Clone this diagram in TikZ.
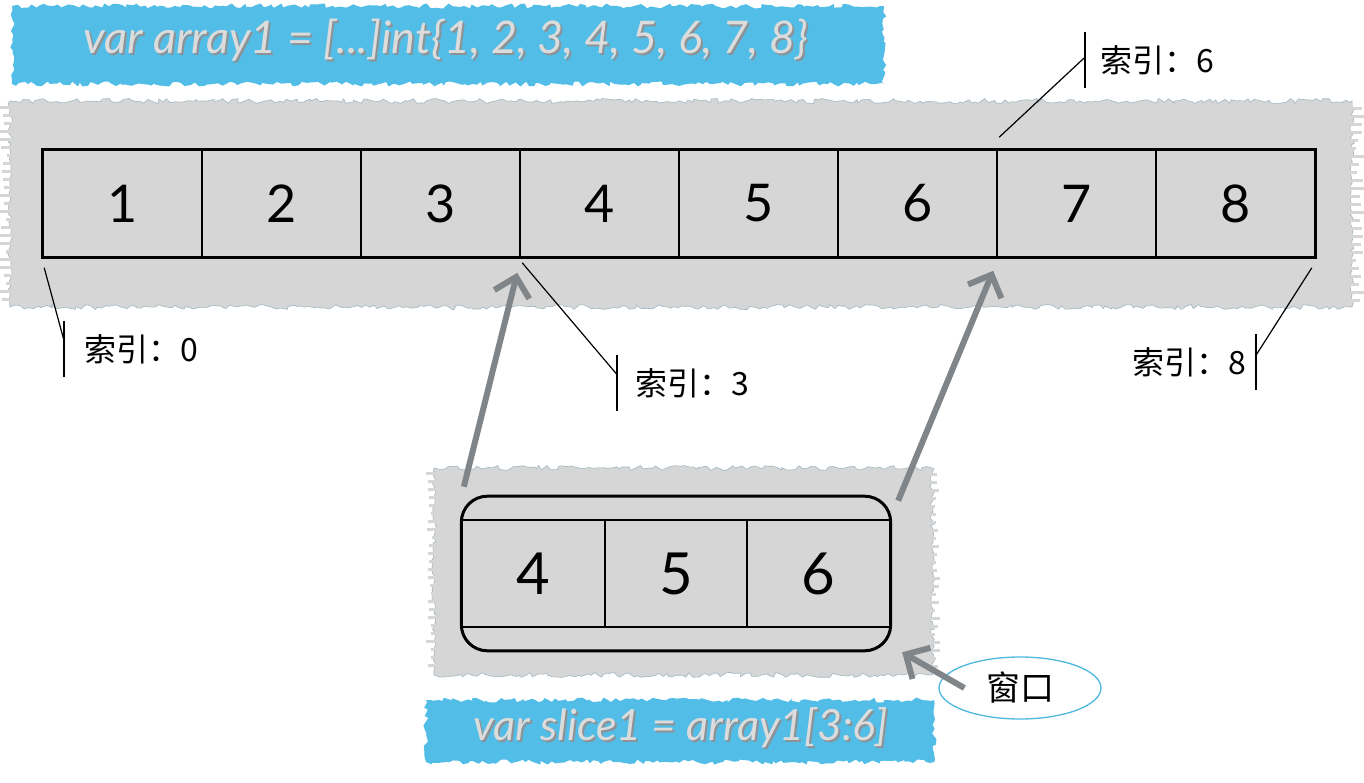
\documentclass[tikz,border=0pt]{standalone}
\usepackage{fontspec}
\setmainfont{Lato}
\newfontfamily\cjk{Noto Sans CJK SC}
\usetikzlibrary{arrows.meta,decorations.pathmorphing,shapes.geometric,calc,fit}
\definecolor{bannerblue}{HTML}{52BDE6}
\definecolor{bggray}{HTML}{D6D6D6}
\definecolor{arrowgray}{HTML}{7F8588}
\definecolor{codegray}{HTML}{DCDCDC}
\definecolor{shadowgray}{HTML}{8C9296}
\definecolor{edgeblue}{HTML}{A3B6C1}
\definecolor{ellblue}{HTML}{4DB8E0}
\tikzset{
  rough/.style={decorate, decoration={random steps, segment length=4pt, amplitude=2.5pt}},
  graybg/.style={fill=bggray, draw=edgeblue, line width=0.6pt, rough},
  bluebg/.style={fill=bannerblue, rough},
  streak/.style={fill=bggray},
  cell/.style={draw=black, line width=1.6pt, fill=bggray, minimum width=159pt, minimum height=107pt, inner sep=0pt, font=\fontsize{52}{52}\selectfont},
  scell/.style={draw=black, line width=1.6pt, minimum width=142.7pt, minimum height=107pt, inner sep=0pt, font=\fontsize{58}{58}\selectfont},
  code/.style={text=codegray, font=\itshape\fontsize{45}{45}\selectfont, inner sep=0pt},
  codeshadow/.style={text=shadowgray, font=\itshape\fontsize{45}{45}\selectfont, inner sep=0pt},
  code2/.style={text=codegray, font=\itshape\fontsize{43}{43}\selectfont, inner sep=0pt},
  codeshadow2/.style={text=shadowgray, font=\itshape\fontsize{43}{43}\selectfont, inner sep=0pt},
  idx/.style={font=\cjk\fontsize{32}{32}\selectfont, minimum height=56pt, inner ysep=0pt},
  leader/.style={draw=black, line width=1.2pt},
  bigarrow/.style={draw=arrowgray, line width=6pt, -{Straight Barb[length=18pt,width=36pt]}},
}
\begin{document}
\begin{tikzpicture}[x=1pt,y=-1pt]
\pgfmathsetseed{7}
\useasboundingbox (0,0) rectangle (1364,783);
% backgrounds
\path[bluebg] (12,6) rectangle (884,84);
\path[graybg] (10,101) rectangle (1352,307);
\foreach \k in {0,...,24} {
  \pgfmathsetmacro\wl{3+12*rnd}
  \pgfmathsetmacro\wr{3+10*rnd}
  \fill[streak] ({10-\wl},{106+8*\k}) rectangle (20,{109+8*\k});
  \fill[streak] (1340,{107+8*\k}) rectangle ({1352+\wr},{110+8*\k});
}
\path[graybg] (434,468) rectangle (932,675);
\foreach \k in {0,...,24} {
  \pgfmathsetmacro\wl{2+6*rnd}
  \pgfmathsetmacro\wr{2+6*rnd}
  \fill[streak] ({434-\wl},{472+8*\k}) rectangle (444,{475+8*\k});
  \fill[streak] (922,{473+8*\k}) rectangle ({932+\wr},{476+8*\k});
}
\path[bluebg] (426,700) rectangle (934,762);
% banner texts
\node[codeshadow] (t1s) at (448,42) {var array1 = [...]int\{1, 2, 3, 4, 5, 6, 7, 8\}};
\node[code] (t1) at (446,40) {var array1 = [...]int\{1, 2, 3, 4, 5, 6, 7, 8\}};
\node[codeshadow2] (t2s) at (683,730) {var slice1 = array1[3:6]};
\node[code2] (t2) at (681,728) {var slice1 = array1[3:6]};
% array cells
\foreach \i in {1,...,8} \node[cell] (c\i) at ({43+159*(\i-0.5)},203.5) {\i};
\draw[line width=2.2pt] (c1.north west) rectangle (c8.south east);
% slice window
\node[scell] (s1) at (533.5,573.5) {4};
\node[scell] (s2) at (676,573.5) {5};
\node[scell] (s3) at (818.5,573.5) {6};
\node[draw, line width=3pt, rounded corners=26pt, fit=(s1)(s3), inner xsep=0pt, inner ysep=23pt] (win) {};
% arrows
\coordinate (a1s) at ($(win.north west)+(4,-8)$);
\coordinate (a1e) at ($(c4.south west)+(-2,15)$);
\draw[bigarrow] (a1s) -- (a1e);
\coordinate (a2s) at ($(win.north east)+(6,6)$);
\coordinate (a2e) at ($(c7.south west)+(-3,13)$);
\draw[bigarrow] (a2s) -- (a2e);
% window label
\node[ellipse, draw=ellblue, line width=1.3pt, minimum width=162pt, minimum height=62pt, font=\cjk\fontsize{34}{34}\selectfont] (lbl) at (1020,688) {窗口};
\coordinate (a3s) at ($(lbl.west)+(26,0)$);
\coordinate (a3e) at ($(win.south east)+(10,0)$);
\draw[bigarrow] (a3s) -- (a3e);
% index labels
\node[idx, anchor=west, inner xsep=20pt] (i0) at (64,349) {索引：0};
\draw[leader] (i0.north west) -- (i0.south west);
\draw[leader] ($(c1.south west)+(2,10)$) -- ($(i0.north west)!0.35!(i0.south west)$);
\node[idx, anchor=west, inner xsep=18pt] (i3) at (617,383) {索引：3};
\draw[leader] (i3.north west) -- (i3.south west);
\draw[leader] ($(c4.south west)+(3,5)$) -- ($(i3.north west)!0.35!(i3.south west)$);
\node[idx, anchor=west, inner xsep=15pt] (i6) at (1085,60) {索引：6};
\draw[leader] (i6.north west) -- (i6.south west);
\draw[leader] ($(c7.north west)+(3,-12)$) -- ($(i6.north west)!0.45!(i6.south west)$);
\node[idx, anchor=east, inner xsep=10pt] (i8) at (1256,362) {索引：8};
\draw[leader] (i8.north east) -- (i8.south east);
\draw[leader] ($(c8.south east)+(-4,10)$) -- ($(i8.north east)!0.38!(i8.south east)$);
\end{tikzpicture}
\end{document}
